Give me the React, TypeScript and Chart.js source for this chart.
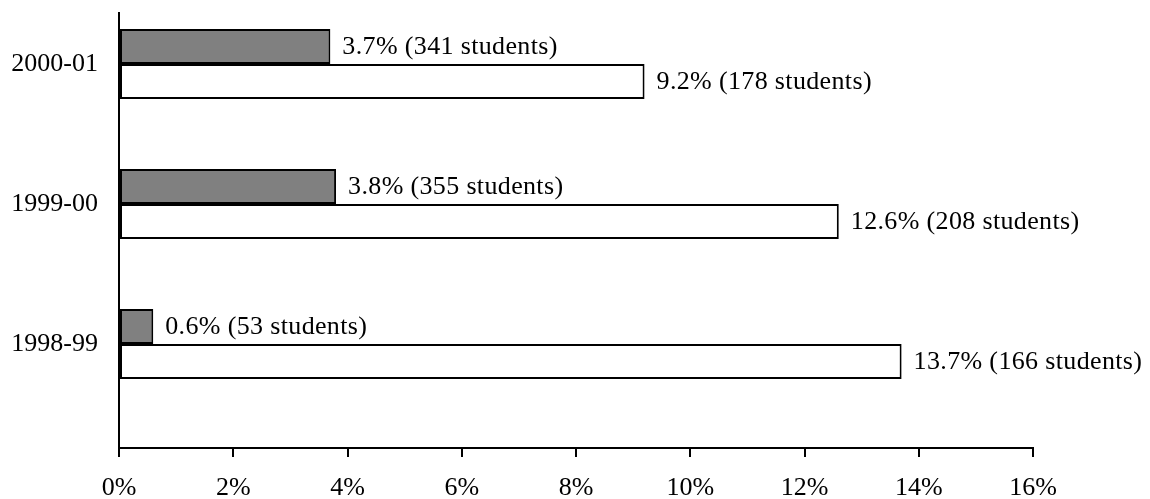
import React, { useEffect, useRef } from "react";
import { Chart, registerables } from "chart.js";

Chart.register(...registerables);

// School years, top to bottom
const categories = ["2000-01", "1999-00", "1998-99"];

// Percent values for each series
const grayPercent = [3.7, 3.8, 0.6];
const whitePercent = [9.2, 12.6, 13.7];

// Student counts printed next to each bar
const grayStudents = [341, 355, 53];
const whiteStudents = [178, 208, 166];

// X axis tick values (percent)
const xTicks = [0, 2, 4, 6, 8, 10, 12, 14, 16];

const FONT = "'Liberation Serif', 'Times New Roman', serif";

const barLabels = {
  id: "barLabels",
  afterDatasetsDraw(chart: any) {
    const ctx = chart.ctx;
    ctx.save();
    ctx.font = `26px ${FONT}`;
    (ctx as any).letterSpacing = "0.35px";
    ctx.fillStyle = "#000";
    ctx.textAlign = "left";
    ctx.textBaseline = "middle";
    chart.data.datasets.forEach((ds: any, di: number) => {
      const meta = chart.getDatasetMeta(di);
      const counts = ds.studentCounts as number[];
      meta.data.forEach((bar: any, i: number) => {
        const v = ds.data[i].x as number;
        const text = `${v.toFixed(1)}% (${counts[i]} students)`;
        ctx.fillText(text, bar.x + 12, bar.y + 1);
      });
    });
    ctx.restore();
  },
};

export default function App() {
  const canvasRef = useRef<HTMLCanvasElement | null>(null);

  useEffect(() => {
    if (!canvasRef.current) return;
    const chart = new Chart(canvasRef.current, {
      type: "bar",
      data: {
        datasets: [
          {
            label: "gray",
            data: categories.map((_, i) => ({ x: grayPercent[i], y: i })),
            backgroundColor: "#808080",
            borderColor: "#000",
            borderWidth: 2,
            borderSkipped: false,
            studentCounts: grayStudents,
          } as any,
          {
            label: "white",
            data: categories.map((_, i) => ({ x: whitePercent[i], y: i })),
            backgroundColor: "#fff",
            borderColor: "#000",
            borderWidth: 2,
            borderSkipped: false,
            studentCounts: whiteStudents,
          } as any,
        ],
      },
      plugins: [barLabels],
      options: {
        indexAxis: "y",
        animation: false,
        responsive: true,
        maintainAspectRatio: false,
        layout: { padding: { left: 0, right: 117, top: 13, bottom: 0 } },
        datasets: {
          bar: { categoryPercentage: 0.5, barPercentage: 1.0 },
        },
        plugins: {
          legend: { display: false },
          tooltip: { enabled: false },
          title: { display: false },
        },
        scales: {
          x: {
            type: "linear",
            min: 0,
            max: 16,
            afterBuildTicks: (scale: any) => {
              scale.ticks = xTicks.map((v) => ({ value: v }));
            },
            afterFit: (scale: any) => {
              scale.height = 51;
            },
            grid: {
              drawOnChartArea: false,
              drawTicks: true,
              tickLength: 9,
              color: "#000",
              lineWidth: 2,
            },
            border: { display: true, color: "#000", width: 2 },
            ticks: {
              color: "#000",
              font: { family: FONT, size: 26 },
              padding: 16,
              maxRotation: 0,
              callback: (v: any) => `${v}%`,
            },
          },
          y: {
            type: "linear",
            reverse: true,
            offset: false,
            bounds: "data",
            grace: 0,
            min: -0.364,
            max: 2.743,
            afterBuildTicks: (scale: any) => {
              scale.ticks = categories.map((_, i) => ({ value: i }));
            },
            afterFit: (scale: any) => {
              scale.width = 119;
              scale.paddingTop = 0;
              scale.paddingBottom = 0;
            },
            grid: {
              drawOnChartArea: false,
              drawTicks: false,
              color: "#000",
              lineWidth: 2,
            },
            border: { display: true, color: "#000", width: 2 },
            ticks: {
              color: "#000",
              font: { family: FONT, size: 26 },
              padding: 21,
              callback: (v: any) => categories[v] ?? "",
            },
          },
        },
      } as any,
    });
    return () => chart.destroy();
  }, []);

  return (
    <div style={{ position: "fixed", left: 0, top: 0, width: 1150, height: 499, background: "#fff" }}>
      <canvas ref={canvasRef} />
    </div>
  );
}
